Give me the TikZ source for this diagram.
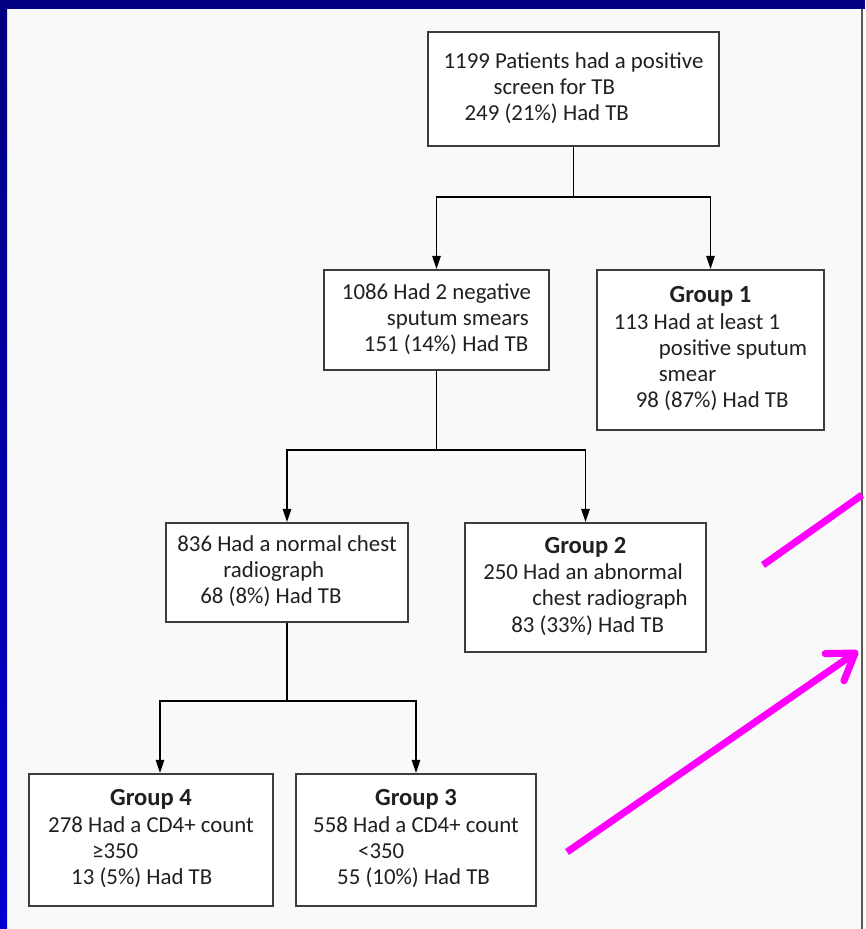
\documentclass[tikz,border=0pt]{standalone}
\usepackage{fontspec}
\setmainfont{Carlito}
\usetikzlibrary{arrows.meta}
\definecolor{navyband}{RGB}{0,0,128}
\definecolor{blueband}{RGB}{0,0,208}
\definecolor{panel}{RGB}{249,249,249}
\definecolor{boxline}{RGB}{60,60,60}
\definecolor{inktext}{RGB}{35,31,32}
\definecolor{magentaline}{RGB}{255,0,255}
\newcommand{\grouphead}[1]{\multicolumn{1}{@{}c@{}}{\fontsize{14}{16}\selectfont\bfseries #1}}
\newcommand{\boxlines}[1]{\begin{tabular}{@{}l@{}}#1\end{tabular}}

\begin{document}
\begin{tikzpicture}[x=0.02cm, y=-0.02cm,
    every node/.style={font=\fontsize{13}{14.9}\selectfont, text=inktext},
    stage/.style={rectangle, draw=boxline, line width=1.1pt, fill=white, inner sep=0pt},
    flow/.style={draw=black, line width=0.8pt},
    flowarrow/.style={flow, -{Triangle[width=4.8pt,length=7.5pt]}},
    pointer/.style={draw=magentaline, line width=4pt}]
        \useasboundingbox (0,0) rectangle (865,929);
        \fill[panel] (0,0) rectangle (865,929);
        \shade[top color=navyband, bottom color=blueband] (0,0) rectangle (7,929);
        \fill[navyband] (0,0) rectangle (865,9);
        \draw[gray!70!black, line width=1.2pt] (862,9) -- (862,929);

        \node[stage, minimum width=5.82cm, minimum height=2.28cm] (screen) at (573.5,89)
            {\boxlines{1199 Patients had a positive\\\hspace*{1cm}screen for TB\\\hspace*{0.42cm}249 (21\%) Had TB}};
        \node[stage, minimum width=4.5cm, minimum height=2cm] (negsmear) at (436.5,320)
            {\boxlines{1086 Had 2 negative\\\hspace*{0.9cm}sputum smears\\\hspace*{0.44cm}151 (14\%) Had TB}};
        \node[stage, minimum width=4.54cm, minimum height=3.2cm] (group1) at (710.5,350)
            {\boxlines{\grouphead{Group 1}\\113 Had at least 1\\\hspace*{0.9cm}positive sputum\\\hspace*{0.9cm}smear\\\hspace*{0.44cm}98 (87\%) Had TB}};
        \node[stage, minimum width=4.84cm, minimum height=1.98cm] (normal) at (287,572.5)
            {\boxlines{836 Had a normal chest\\\hspace*{0.92cm}radiograph\\\hspace*{0.46cm}68 (8\%) Had TB}};
        \node[stage, minimum width=4.82cm, minimum height=2.58cm] (group2) at (585.5,587.5)
            {\boxlines{\grouphead{Group 2}\\250 Had an abnormal\\\hspace*{0.98cm}chest radiograph\\\hspace*{0.56cm}83 (33\%) Had TB}};
        \node[stage, minimum width=4.88cm, minimum height=2.64cm] (group4) at (151,840)
            {\boxlines{\grouphead{Group 4}\\278 Had a CD4+ count\\\hspace*{0.88cm}≥350\\\hspace*{0.46cm}13 (5\%) Had TB}};
        \node[stage, minimum width=4.8cm, minimum height=2.64cm] (group3) at (416,840)
            {\boxlines{\grouphead{Group 3}\\558 Had a CD4+ count\\\hspace*{0.9cm}<350\\\hspace*{0.48cm}55 (10\%) Had TB}};

        \draw[flowarrow] (screen.south) -- ++(0,50) -| (negsmear.north);
        \draw[flowarrow] (screen.south) -- ++(0,50) -| (group1.north);
        \draw[flowarrow] (negsmear.south) -- ++(0,79) -| (normal.north);
        \draw[flowarrow] (negsmear.south) -- ++(0,79) -| (group2.north);
        \draw[flowarrow] (normal.south) -- ++(0,78) -| ([xshift=0.18cm]group4.north);
        \draw[flowarrow] (normal.south) -- ++(0,78) -| (group3.north);

        \coordinate (ptrAstart) at (763,565);
        \coordinate (ptrAend) at (862,495);
        \coordinate (ptrBstart) at (567,852);
        \coordinate (ptrBtip) at (858,651);
        \draw[pointer] (ptrAstart) -- (ptrAend);
        \draw[pointer, -{Straight Barb[length=0.5cm, width=0.66cm, round]}] (ptrBstart) -- (ptrBtip);
\end{tikzpicture}
\end{document}
